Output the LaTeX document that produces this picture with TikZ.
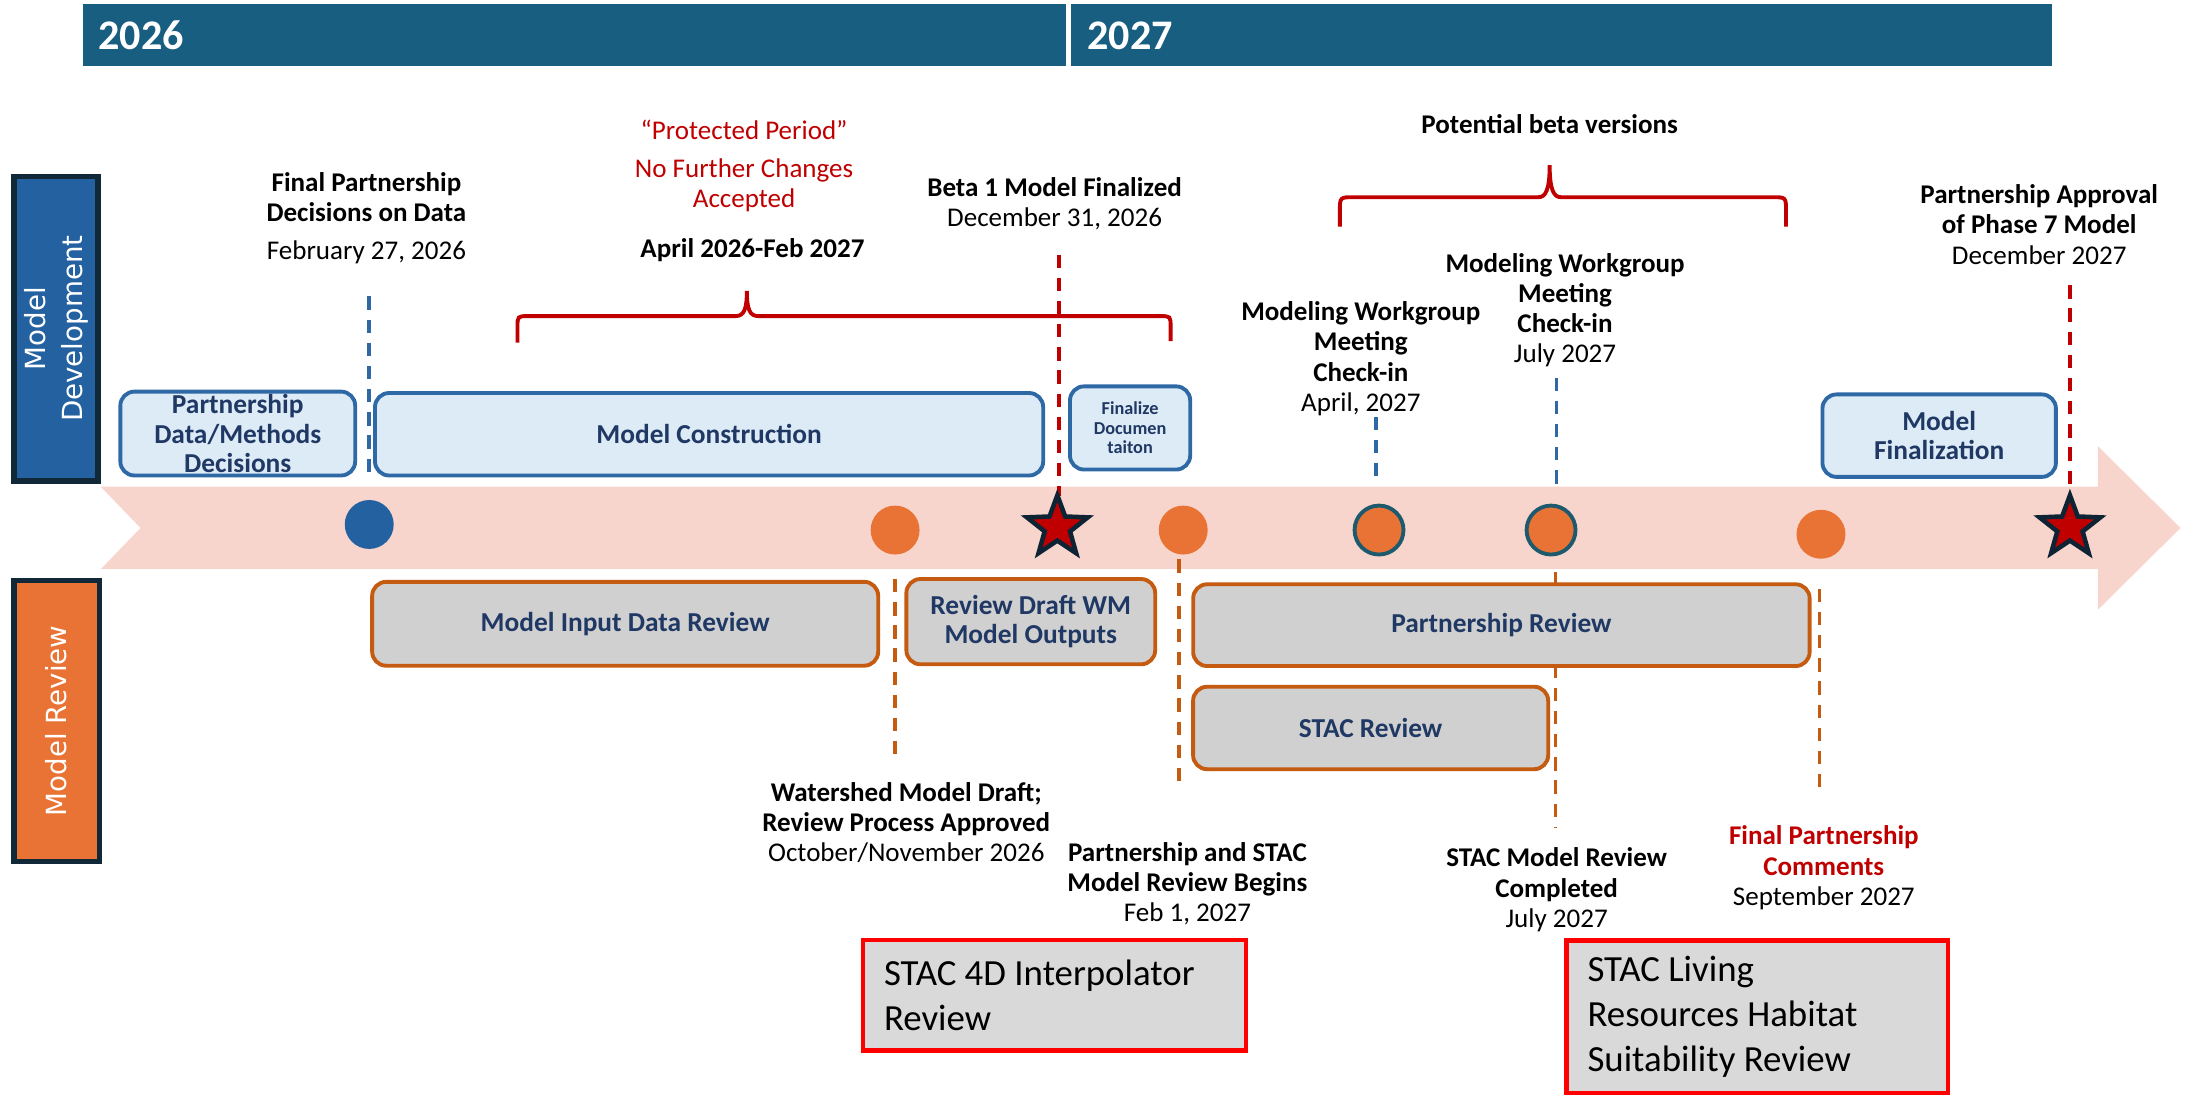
\documentclass[tikz,border=0pt]{standalone}
\usepackage{fontspec}
\setmainfont{Carlito}
\newfontfamily\sidefont{DejaVu Sans}
\usetikzlibrary{shapes.geometric}

\definecolor{headteal}{RGB}{24,94,128}
\definecolor{devblue}{RGB}{36,97,160}
\definecolor{sidedark}{RGB}{16,40,56}
\definecolor{revorange}{RGB}{233,115,52}
\definecolor{bandpink}{RGB}{247,213,204}
\definecolor{boxblue}{RGB}{221,235,247}
\definecolor{lineblue}{RGB}{46,105,165}
\definecolor{boxgray}{RGB}{208,208,208}
\definecolor{notegray}{RGB}{217,217,217}
\definecolor{lineorange}{RGB}{197,90,17}
\definecolor{navytext}{RGB}{31,56,100}
\definecolor{bracered}{RGB}{192,0,0}
\definecolor{rimteal}{RGB}{30,90,110}
\definecolor{stardark}{RGB}{14,36,52}

\begin{document}
\begin{tikzpicture}[x=0.014cm, y=-0.014cm,
  lbl/.style={align=center, inner sep=0pt, font=\fontsize{7.7}{8.6}\selectfont},
  year/.style={anchor=west, inner sep=0pt, text=white, font=\bfseries\fontsize{12}{14}\selectfont},
  lane/.style={rotate=90, draw=sidedark, line width=1.5pt, text=white, align=center, inner sep=0pt, font=\sidefont\fontsize{7.9}{10.5}\selectfont},
  devbox/.style={draw=lineblue, fill=boxblue, line width=1.1pt, rounded corners=4pt, text=navytext, align=center, inner sep=0pt, font=\bfseries\fontsize{7.8}{8.4}\selectfont},
  revbox/.style={draw=lineorange, fill=boxgray, line width=1.1pt, rounded corners=4pt, text=navytext, align=center, inner sep=0pt, font=\bfseries\fontsize{7.8}{8.4}\selectfont},
  notebox/.style={draw=red, fill=notegray, line width=1.3pt, align=flush left, inner xsep=0.21cm, inner ysep=0pt, font=\fontsize{10.5}{12.9}\selectfont},
  dot/.style={circle, fill=revorange, minimum size=0.49cm, inner sep=0pt},
  rim/.style={draw=rimteal, line width=1.1pt},
  milestone/.style={star, star points=5, star point ratio=2.4, fill=bracered, draw=stardark, line width=1.3pt, minimum size=0.64cm, inner sep=0pt},
  bluedash/.style={draw=lineblue, line width=1pt, dash pattern=on 3.8pt off 2.8pt},
  reddash/.style={draw=bracered, line width=1pt, dash pattern=on 3.8pt off 2.8pt},
  orangedash/.style={draw=lineorange, line width=1pt, dash pattern=on 3.8pt off 2.8pt},
  brace/.style={draw=bracered, line width=1.1pt}]
\useasboundingbox (0,0) rectangle (1568,783);

% year bars
\fill[headteal] (59,3) rectangle (762.5,47.5);
\fill[headteal] (766,3) rectangle (1467.5,47.5);
\node[year] (yr26) at (70,25.5) {2026};
\node[year] (yr27) at (777,25.5) {2027};

% lanes
\node[lane, fill=devblue, minimum width=3.052cm, minimum height=0.84cm] (dev) at (40,235) {Model\\Development};
\node[lane, fill=revorange, minimum width=2.814cm, minimum height=0.854cm] (rev) at (40.5,515.5) {Model Review};

% timeline arrow
\fill[bandpink] (72,348) -- (1500,348) -- (1500,319) -- (1559,377.5) -- (1500,436) -- (1500,407) -- (72,407) -- (100.5,377.5) -- cycle;

% guide lines
\coordinate (g1a) at (264,212);   \coordinate (g1b) at (264,343);
\coordinate (g2a) at (757,182);   \coordinate (g2b) at (757,355);
\coordinate (g3a) at (984,298);   \coordinate (g3b) at (984,343);
\coordinate (g4a) at (1113,270);  \coordinate (g4b) at (1113,346);
\coordinate (g5a) at (1480,204);  \coordinate (g5b) at (1480,355);
\coordinate (h1a) at (640,414);   \coordinate (h1b) at (640,544);
\coordinate (h2a) at (843,400);   \coordinate (h2b) at (843,565);
\coordinate (h3a) at (1112,409);  \coordinate (h3b) at (1112,592);
\coordinate (h4a) at (1301,421);  \coordinate (h4b) at (1301,570);
\draw[bluedash] (g1a) -- (g1b);
\draw[reddash] (g2a) -- (g2b);
\draw[bluedash] (g3a) -- (g3b);
\draw[bluedash] (g4a) -- (g4b);
\draw[reddash] (g5a) -- (g5b);
\draw[orangedash] (h1a) -- (h1b);
\draw[orangedash] (h2a) -- (h2b);
\draw[orangedash] (h3a) -- (h3b);
\draw[orangedash] (h4a) -- (h4b);

% development boxes
\node[devbox, minimum width=2.352cm, minimum height=0.84cm] (pdm) at (170,310) {Partnership\\Data/Methods\\Decisions};
\node[devbox, minimum width=6.692cm, minimum height=0.826cm] (build) at (507,310.5) {Model Construction};
\node[devbox, minimum width=1.204cm, minimum height=0.833cm, font=\bfseries\fontsize{5.2}{5.6}\selectfont] (docs) at (808,306) {Finalize\\Documen\\taiton};
\node[devbox, minimum width=2.338cm, minimum height=0.826cm] (fin) at (1386.5,311.5) {Model\\Finalization};

% review boxes
\node[revbox, minimum width=5.068cm, minimum height=0.84cm] (input) at (447,446) {Model Input Data Review};
\node[revbox, minimum width=2.492cm, minimum height=0.854cm] (draft) at (737,444.5) {Review Draft WM\\Model Outputs};
\node[revbox, minimum width=6.174cm, minimum height=0.819cm] (prev) at (1073.5,447) {Partnership Review};
\node[revbox, minimum width=3.556cm, minimum height=0.826cm] (stac) at (980,520.5) {STAC Review};

% markers
\node[dot, fill=devblue] (m1) at (264,375) {};
\node[dot] (m2) at (640,379) {};
\node[milestone] (beta) at (756,377) {};
\node[dot] (m3) at (846,379) {};
\node[dot, rim] (m4) at (986,379) {};
\node[dot, rim] (m5) at (1109,379) {};
\node[dot] (m6) at (1302,382) {};
\node[milestone] (final) at (1480,377) {};

% braces
\draw[brace] (370,245) -- (370,234) .. controls (370,226) .. (378,226) -- (526,226) .. controls (532,226) and (534,221) .. (534,208) .. controls (534,221) and (536,226) .. (542,226) -- (829,226) .. controls (837,226) .. (837,234) -- (837,244);
\draw[brace] (958,162) -- (958,151) .. controls (958,141) .. (968,141) -- (1100,141) .. controls (1105,141) and (1108,136) .. (1108,118) .. controls (1108,136) and (1111,141) .. (1116,141) -- (1267,141) .. controls (1277,141) .. (1277,151) -- (1277,162);

% labels above
\node[lbl] (fpd) at (262,156) {\textbf{Final Partnership}\\\textbf{Decisions on Data}\\[2.2pt]February 27, 2026};
\node[lbl, text=bracered] (prot) at (532,118.8) {“Protected Period”\\[2.3pt]No Further Changes\\Accepted};
\node[lbl, font=\bfseries\fontsize{7.7}{8.6}\selectfont] (prd) at (538,178.8) {April 2026-Feb 2027};
\node[lbl] (b1) at (754,145.4) {\textbf{Beta 1 Model Finalized}\\December 31, 2026};
\node[lbl, font=\bfseries\fontsize{7.7}{8.6}\selectfont] (pbv) at (1108,88.7) {Potential beta versions};
\node[lbl] (wg1) at (973,256.5) {\textbf{Modeling Workgroup}\\\textbf{Meeting}\\\textbf{Check-in}\\April, 2027};
\node[lbl] (wg2) at (1119,221.7) {\textbf{Modeling Workgroup}\\\textbf{Meeting}\\\textbf{Check-in}\\July 2027};
\node[lbl] (appr) at (1458,160.5) {\textbf{Partnership Approval}\\\textbf{of Phase 7 Model}\\December 2027};

% labels below
\node[lbl] (wsd) at (648,588) {\textbf{Watershed Model Draft;}\\\textbf{Review Process Approved}\\October/November 2026};
\node[lbl] (pstac) at (849,632) {\textbf{Partnership and STAC}\\\textbf{Model Review Begins}\\Feb 1, 2027};
\node[lbl] (sdone) at (1113,636.2) {\textbf{STAC Model Review}\\\textbf{Completed}\\July 2027};
\node[lbl] (fcom) at (1304,620.5) {\textcolor{bracered}{\textbf{Final Partnership}}\\\textcolor{bracered}{\textbf{Comments}}\\September 2027};

% review notes
\node[notebox, minimum height=1.106cm, text width=3.416cm] (n4d) at (754,711.5) {STAC 4D Interpolator\\Review};
\node[notebox, minimum height=1.526cm, text width=3.402cm] (nlr) at (1256.5,727) {STAC Living\\Resources Habitat\\Suitability Review};

\end{tikzpicture}
\end{document}
